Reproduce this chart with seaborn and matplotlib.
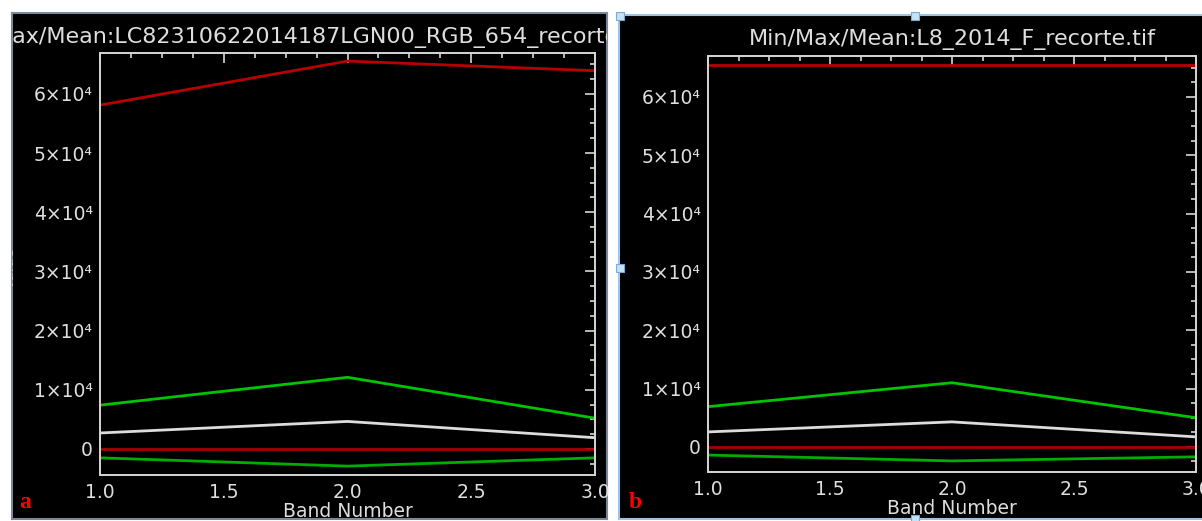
import matplotlib
matplotlib.use('Agg')
import pandas as pd
import matplotlib.pyplot as plt
import seaborn as sns
from matplotlib.ticker import MultipleLocator, FuncFormatter
from matplotlib.patches import Rectangle

# Band numbers on the x axis
bands = [1, 2, 3]

# Panel a: LC82310622014187LGN00_RGB_654_recorte
a_max = [58100, 65535, 63900]
a_mean_plus = [7400, 12100, 5200]
a_mean = [2700, 4650, 1900]
a_min = [0, 0, 0]
a_mean_minus = [-1500, -2900, -1500]

# Panel b: L8_2014_F_recorte.tif
b_max = [65535, 65535, 65535]
b_mean_plus = [6900, 11000, 5000]
b_mean = [2570, 4290, 1720]
b_min = [0, 0, 0]
b_mean_minus = [-1400, -2400, -1700]

titles = ['Min/Max/Mean:LC82310622014187LGN00_RGB_654_recorte.tif',
          'Min/Max/Mean:L8_2014_F_recorte.tif']
panel_letters = ['a', 'b']

stat_names = ['Max', 'Mean+Stdev', 'Mean', 'Min', 'Mean-Stdev']
palette = {'Max': '#b80000', 'Mean+Stdev': '#00c400', 'Mean': '#dcdcdc',
           'Min': '#a80000', 'Mean-Stdev': '#00ac00'}


def long_frame(series):
    rows = []
    for name, vals in zip(stat_names, series):
        for b, v in zip(bands, vals):
            rows.append({'band': b, 'value': v, 'stat': name})
    return pd.DataFrame(rows)


df_a = long_frame([a_max, a_mean_plus, a_mean, a_min, a_mean_minus])
df_b = long_frame([b_max, b_mean_plus, b_mean, b_min, b_mean_minus])

sns.set_style('dark')
plt.rcParams['font.family'] = ['DejaVu Sans']

W, H = 1202, 521
fig = plt.figure(figsize=(W / 100, H / 100), dpi=100, facecolor='white')


def px_axes(x0, y0, x1, y1):
    return fig.add_axes([x0 / W, 1 - y1 / H, (x1 - x0) / W, (y1 - y0) / H])


def fig_xy(x, y):
    return x / W, 1 - y / H


# black window backgrounds
bg_a = px_axes(12, 13, 607, 519)
bg_b = px_axes(619, 15, 1206, 519)
for bg, ec in [(bg_a, '#7d8896'), (bg_b, '#9cc3e6')]:
    bg.set_facecolor('black')
    bg.set_xticks([])
    bg.set_yticks([])
    for s in bg.spines.values():
        s.set_color(ec)
        s.set_linewidth(1.5)

# selection handles on window b
for hx, hy in [(620, 16), (915, 16), (915, 519), (620, 268)]:
    fx, fy = fig_xy(hx - 4, hy + 4)
    fig.add_artist(Rectangle((fx, fy), 8 / W, 8 / H, transform=fig.transFigure,
                             facecolor='#c4e2f6', edgecolor='#7fa9cf', lw=0.8))

ax_a = px_axes(100, 53, 595, 475)
ax_b = px_axes(708, 56, 1196, 472)

fg = '#d6d6d6'


def ytick_fmt(v, pos):
    if abs(v) < 1:
        return '0'
    return '%d×10\u2074' % round(v / 1e4)


for ax, df, ylim in [(ax_a, df_a, (-4400, 66900)), (ax_b, df_b, (-4300, 67000))]:
    ax.set_facecolor('black')
    sns.lineplot(data=df, x='band', y='value', hue='stat', hue_order=stat_names,
                 palette=palette, estimator=None, linewidth=2, legend=False, ax=ax)
    ax.set_xlim(1, 3)
    ax.set_ylim(*ylim)
    ax.xaxis.set_major_locator(MultipleLocator(0.5))
    ax.xaxis.set_minor_locator(MultipleLocator(0.125))
    ax.yaxis.set_major_locator(MultipleLocator(10000))
    ax.yaxis.set_minor_locator(MultipleLocator(2500))
    ax.xaxis.set_major_formatter(FuncFormatter(lambda v, p: '%.1f' % v))
    ax.yaxis.set_major_formatter(FuncFormatter(ytick_fmt))
    ax.tick_params(which='both', direction='in', top=True, right=True,
                   colors=fg, labelcolor='#dedede', labelsize=13.5, width=1.2)
    ax.tick_params(which='major', length=7)
    ax.tick_params(which='minor', length=3.5)
    ax.tick_params(axis='y', pad=5)
    ax.tick_params(axis='x', pad=6)
    ax.grid(False)
    for s in ax.spines.values():
        s.set_visible(True)
        s.set_color(fg)
        s.set_linewidth(1.4)
    ax.set_xlabel('Band Number', color='#dedede', fontsize=13.5, labelpad=0)
    ax.set_ylabel('')

# titles, clipped by the black windows (title a runs past both window edges)
bg_a.text(-53 / W, 1 - 37 / H, titles[0], transform=fig.transFigure, ha='left',
          va='center', color='#dedede', fontsize=16, clip_on=True)
box = ax_b.get_position()
bg_b.text((box.x0 + box.x1) / 2, 1 - 39 / H, titles[1], transform=fig.transFigure,
          ha='center', va='center', color='#dedede', fontsize=16, clip_on=True)

# y label mostly hidden behind the window edge
for bg in [bg_a, bg_b]:
    bx = bg.get_position().x0
    bg.text(bx - 3 / W, 1 - 268 / H, 'Value', transform=fig.transFigure, rotation=90,
            ha='center', va='center', color='#c8c8c8', fontsize=11, clip_on=True)

for letter, (lx, ly) in zip(panel_letters, [(25, 503), (635, 503)]):
    fx, fy = fig_xy(lx, ly)
    fig.text(fx, fy, letter, color='red', fontsize=17, fontweight='bold',
             family='Liberation Serif', ha='center', va='center')

fig.savefig('out.png', dpi=100, facecolor='white')
